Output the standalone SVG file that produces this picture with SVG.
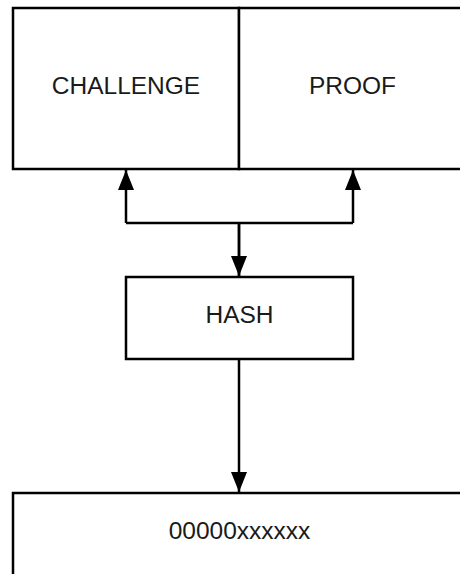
<svg xmlns="http://www.w3.org/2000/svg" width="460" height="574" viewBox="0 0 460 574">
<style>
.box{fill:#fff;stroke:#000;stroke-width:2.5}
.lbl{font-family:"Liberation Sans",Arial,sans-serif;font-size:24.5px;fill:#1a1a1a;text-anchor:middle}
.ln{fill:none;stroke:#000;stroke-width:2.5}
</style>
<defs>
<marker id="ah" markerUnits="userSpaceOnUse" markerWidth="20" markerHeight="16" refX="20" refY="8" orient="auto">
<path d="M0,0 L20,8 L0,16 Z" fill="#000"/>
</marker>
</defs>
<rect width="460" height="574" fill="#fff"/>
<g id="challenge">
<rect class="box" x="13" y="8" width="226" height="161"/>
<text class="lbl" x="126" y="94">CHALLENGE</text>
</g>
<g id="proof">
<rect class="box" x="239" y="8" width="227" height="161"/>
<text class="lbl" x="352.5" y="94">PROOF</text>
</g>
<g id="hash">
<rect class="box" x="126" y="277" width="227" height="82"/>
<text class="lbl" x="239.5" y="323">HASH</text>
</g>
<g id="result">
<rect class="box" x="13" y="493" width="453" height="90"/>
<text class="lbl" x="239.5" y="539">00000xxxxxx</text>
</g>
<g id="connectors">
<path class="ln" d="M239,277 V223"/>
<path class="ln" d="M126,223 H353"/>
<path class="ln" d="M126,223 V170" marker-end="url(#ah)"/>
<path class="ln" d="M353,223 V170" marker-end="url(#ah)"/>
<path class="ln" d="M239,223 V276" marker-end="url(#ah)"/>
<path class="ln" d="M239,359 V492" marker-end="url(#ah)"/>
</g>
</svg>
